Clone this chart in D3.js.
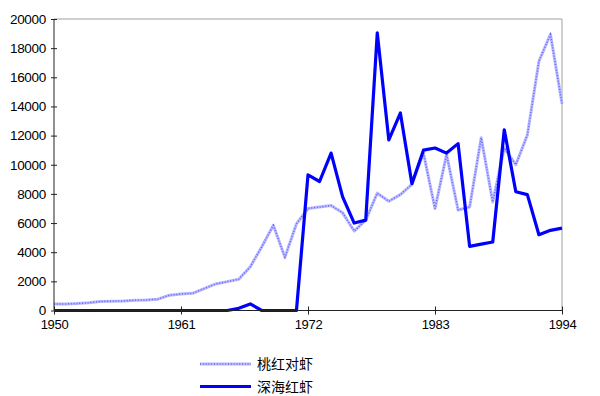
<!DOCTYPE html>
<html><head><meta charset="utf-8">
<script src="https://cdn.jsdelivr.net/npm/d3@7"></script>
<style>body{margin:0;background:#fff}svg{display:block}</style>
</head><body>
<svg id="c" width="600" height="396"></svg>
<script>
const years = d3.range(1950, 1995);
const seriesNames = ["桃红对虾", "深海红虾"];
const pinkShrimp = [450,450,480,530,620,640,650,700,720,780,1050,1130,1180,1500,1820,1980,2150,3000,4380,5850,3650,5950,7000,7100,7200,6700,5450,6200,8050,7500,7950,8650,10800,7000,10700,6900,7100,11850,7450,11150,10000,12050,17100,18950,14200];
const deepShrimp = [0,0,0,0,0,0,0,0,0,0,0,0,0,0,0,0,150,450,0,0,0,0,9300,8850,10800,7800,6000,6200,19050,11700,13550,8700,11000,11150,10800,11450,4400,4550,4700,12400,8150,7950,5200,5500,5650];
const xTicks = [1950,1961,1972,1983,1994];
const yTicks = [0,2000,4000,6000,8000,10000,12000,14000,16000,18000,20000];

const svg = d3.select("#c");
const L = 54, R = 562, T = 19, B = 310.5;
const x = d3.scaleLinear().domain([1950,1994]).range([L,R]);
const y = d3.scaleLinear().domain([0,20000]).range([B,T]);
const font = "Liberation Sans, Arial, sans-serif";

// frame top/right
svg.append("line").attr("x1",L).attr("x2",R).attr("y1",T).attr("y2",T).attr("stroke","#a0a0a0");
svg.append("line").attr("x1",R).attr("x2",R).attr("y1",T).attr("y2",B).attr("stroke","#a0a0a0");

const line = data => d3.line().x((d,i)=>x(years[i])).y(d=>y(d))(data);

function drawLight(g, d) {
  g.append("path").attr("d", d).attr("fill","none").attr("stroke","#babaff").attr("stroke-width",3).attr("stroke-linejoin","round");
  g.append("path").attr("d", d).attr("fill","none").attr("stroke","#6464ff").attr("stroke-width",1.5).attr("stroke-dasharray","1,1.8");
}
drawLight(svg.append("g"), line(pinkShrimp));
svg.append("path").attr("d", line(deepShrimp)).attr("fill","none").attr("stroke","#0000ff").attr("stroke-width",3.2).attr("stroke-linejoin","round");

// axes
const ya = svg.append("g").attr("transform",`translate(${L},0)`)
  .call(d3.axisLeft(y).tickValues(yTicks).tickSize(3).tickFormat(d3.format("d")));
ya.selectAll(".tick line").attr("x1",-3).attr("x2",3).attr("stroke","#222");
ya.select(".domain").attr("stroke","#222").attr("d",`M0,${T}V${B}`);
ya.selectAll("text").attr("font-family",font).attr("font-size",13.5).attr("fill","#000").attr("x",-8).attr("letter-spacing",-0.3);

const xa = svg.append("g").attr("transform",`translate(0,${B})`)
  .call(d3.axisBottom(x).tickValues(xTicks).tickSize(4).tickFormat(d3.format("d")));
xa.selectAll(".tick line").attr("y1",-4).attr("y2",4).attr("stroke","#222");
xa.select(".domain").attr("stroke","#222").attr("d",`M${L},0H${R}`);
xa.selectAll("text").attr("font-family",font).attr("font-size",13).attr("fill","#000").attr("y",9).attr("letter-spacing",-0.3);

// legend
const lg = svg.append("g");
const ly = [364, 386.5];
drawLight(lg, `M200,${ly[0]}H251`);
lg.append("path").attr("d",`M200,${ly[1]}H251`).attr("stroke","#0000ff").attr("stroke-width",3);
seriesNames.forEach((n,i)=>{
  lg.append("text").attr("x",257).attr("y",ly[i]+5).attr("font-family","Noto Sans CJK SC, sans-serif").attr("font-size",14).attr("fill","#000").text(n);
});
</script>
</body></html>
